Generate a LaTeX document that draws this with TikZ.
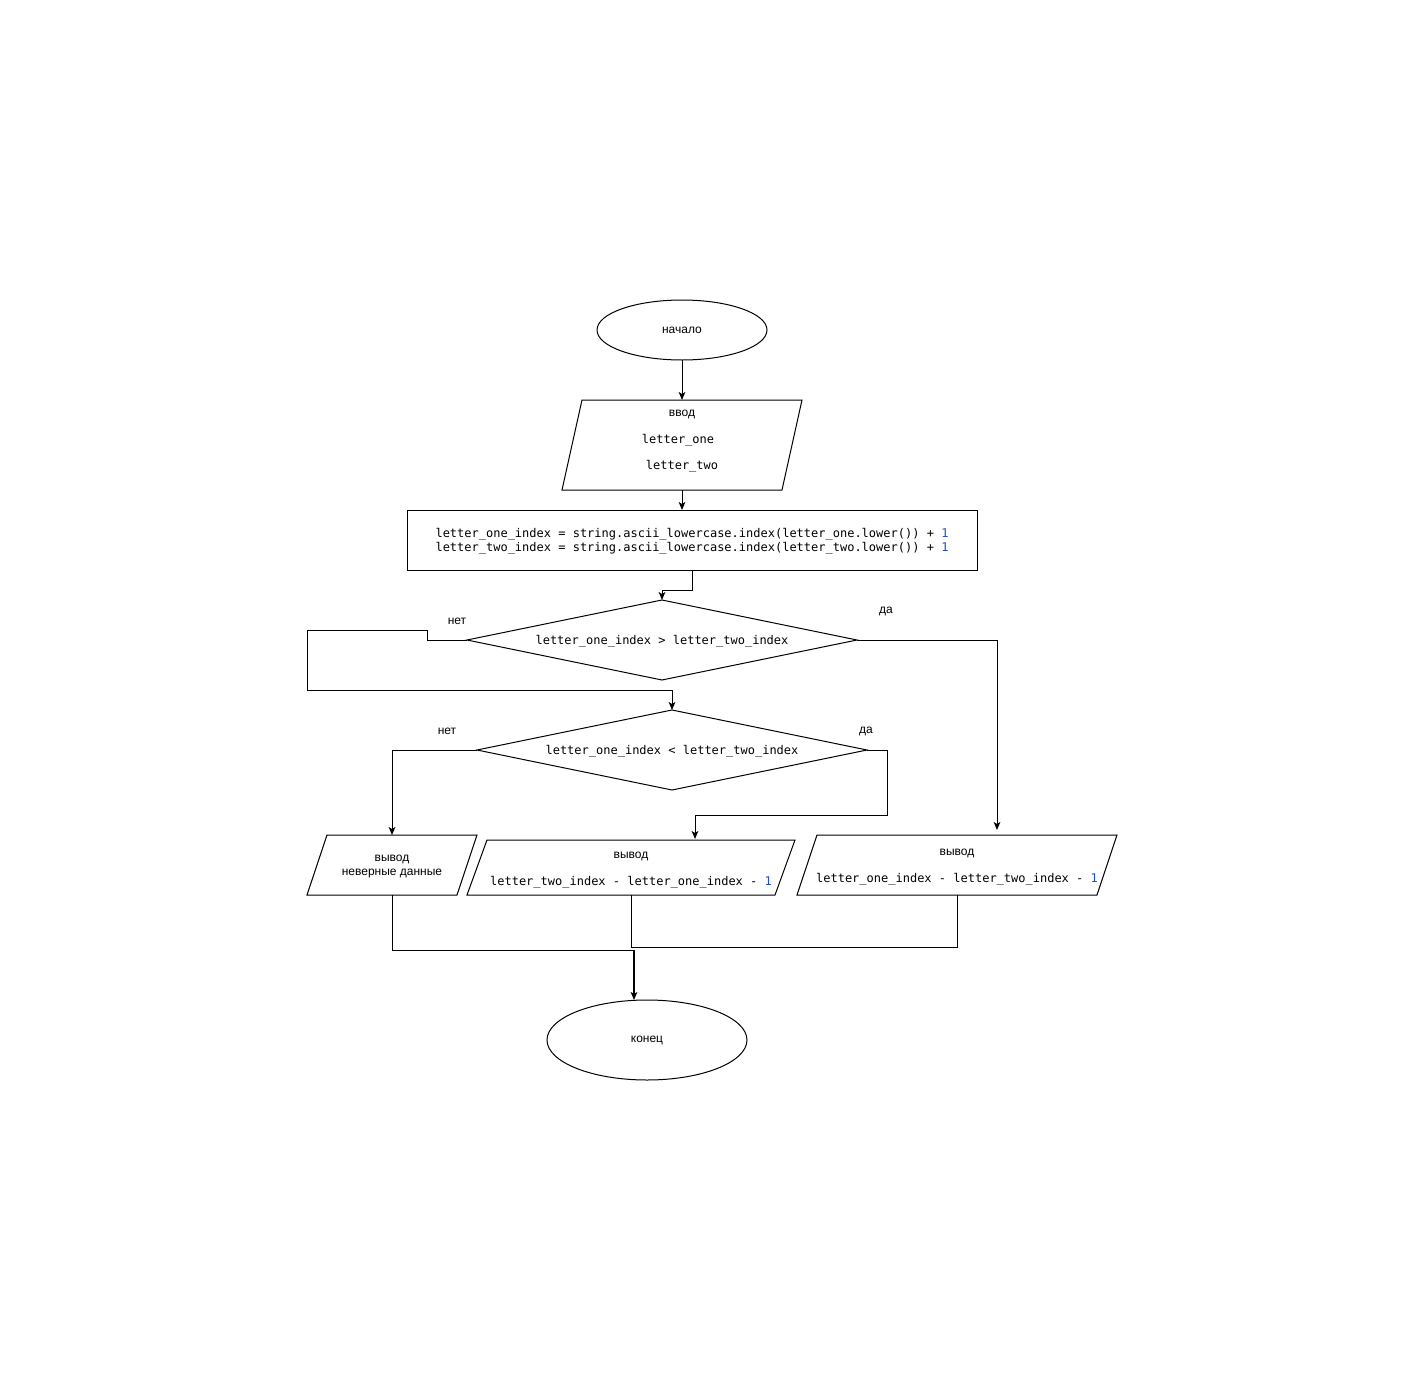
\documentclass[tikz,border=0pt]{standalone}
\usepackage{fontspec}
\setmainfont{Liberation Sans}
\setmonofont{DejaVu Sans Mono}
\usetikzlibrary{shapes.geometric,arrows.meta,calc}
\definecolor{numblue}{RGB}{30,80,200}
\def\u{0.75pt}
\tikzset{
  ln/.style={line width=0.75pt},
  arr/.style={ln,-{Stealth[length=6pt,width=5pt,inset=1.5pt]}},
  txt/.style={font=\fontsize{9}{10.5}\selectfont, inner sep=0, align=center, yshift=-1.1pt},
  code/.style={font=\ttfamily\fontsize{9}{10.5}\selectfont, inner sep=0, yshift=-1.1pt},
  frame/.style={inner sep=0, outer sep=0},
  ell/.style={ellipse, draw, ln, inner sep=0, outer sep=0, font=\fontsize{9}{10.5}\selectfont},
}
\begin{document}
\begin{tikzpicture}[x=0.75pt,y=-0.75pt]
\fill[white] (0,0) rectangle (1418,1381);
\useasboundingbox (0,0) rectangle (1418,1381);

% start
\node[ell, minimum width=170*\u, minimum height=60*\u] (start) at (682,330) {\raisebox{-1.1pt}{начало}};

% input
\node[frame, minimum width=220*\u, minimum height=90*\u] (inp) at (682,445) {};
\draw[ln] ($(inp.north west)+(10,0)$) -- ($(inp.north east)+(10,0)$) -- ($(inp.south east)+(-10,0)$) -- ($(inp.south west)+(-10,0)$) -- cycle;
\node[txt] (inlab) at (682,413) {ввод};
\node[code] (inone) at (678,439) {letter\_one};
\node[code] (intwo) at (682,465) {letter\_two};

% calc box
\node[frame, draw, ln, minimum width=570*\u, minimum height=60*\u] (calc) at (692,540) {};
\node[code, align=left] (calctext) at (692,540) {letter\_one\_index = string.ascii\_lowercase.index(letter\_one.lower()) + \textcolor{numblue}{1}\\letter\_two\_index = string.ascii\_lowercase.index(letter\_two.lower()) + \textcolor{numblue}{1}};

% diamond 1
\node[frame, minimum width=390*\u, minimum height=80*\u] (d1) at (662,640) {};
\draw[ln] (d1.west) -- (d1.north) -- (d1.east) -- (d1.south) -- cycle;
\node[code] (d1text) at (662,640) {letter\_one\_index > letter\_two\_index};
\node[txt] (d1no) at (457,620) {нет};
\node[txt] (d1yes) at (886,610) {да};

% diamond 2
\node[frame, minimum width=390*\u, minimum height=80*\u] (d2) at (672,750) {};
\draw[ln] (d2.west) -- (d2.north) -- (d2.east) -- (d2.south) -- cycle;
\node[code] (d2text) at (672,750) {letter\_one\_index < letter\_two\_index};
\node[txt] (d2no) at (447,730) {нет};
\node[txt] (d2yes) at (866,730) {да};

% output 1
\node[frame, minimum width=150*\u, minimum height=60*\u] (out1) at (392,865) {};
\draw[ln] ($(out1.north west)+(10,0)$) -- ($(out1.north east)+(10,0)$) -- ($(out1.south east)+(-10,0)$) -- ($(out1.south west)+(-10,0)$) -- cycle;
\node[txt] (out1text) at (392,865) {вывод\\неверные данные};

% output 2
\node[frame, minimum width=308*\u, minimum height=55*\u] (out2) at (631,867.5) {};
\draw[ln] ($(out2.north west)+(10,0)$) -- ($(out2.north east)+(10,0)$) -- ($(out2.south east)+(-10,0)$) -- ($(out2.south west)+(-10,0)$) -- cycle;
\node[txt] (out2lab) at (631,855) {вывод};
\node[code] (out2text) at (631,881) {letter\_two\_index - letter\_one\_index - \textcolor{numblue}{1}};

% output 3
\node[frame, minimum width=300*\u, minimum height=60*\u] (out3) at (957,865) {};
\draw[ln] ($(out3.north west)+(10,0)$) -- ($(out3.north east)+(10,0)$) -- ($(out3.south east)+(-10,0)$) -- ($(out3.south west)+(-10,0)$) -- cycle;
\node[txt] (out3lab) at (957,852) {вывод};
\node[code] (out3text) at (957,878) {letter\_one\_index - letter\_two\_index - \textcolor{numblue}{1}};

% end
\node[ell, minimum width=200*\u, minimum height=80*\u] (end) at (647,1040) {\raisebox{-1.1pt}{конец}};

% helper coordinates
\coordinate (y3in) at (997,830);
\coordinate (y2in) at (695,839);
\coordinate (join) at (634,950);
\coordinate (m) at (631,947);
\coordinate (endin) at (634,1000);

% connectors
\draw[arr] (start) -- (inp.north);
\draw[arr] (inp.south) -- (inp.south |- calc.north);
\draw[arr] (calc.south) -- ++(0,20) -| (d1.north);
\draw[arr] (d1.west) -- ++(-40,0) -- ++(0,-10) -- ++(-120,0) |- ($(d2.north)+(0,-20)$) -- (d2.north);
\draw[arr] (d1.east) -| (y3in);
\draw[arr] (d2.west) -| (out1.north);
\draw[arr] (d2.east) -- ++(20,0) |- ($(y2in)+(0,-24)$) -- (y2in);
\draw[ln] (out1.south) |- (join);
\draw[ln] (out2.south) -- (m);
\draw[ln] (out3.south) |- (m);
\draw[arr, line width=1.2pt] (join) -- (endin);
\end{tikzpicture}
\end{document}
